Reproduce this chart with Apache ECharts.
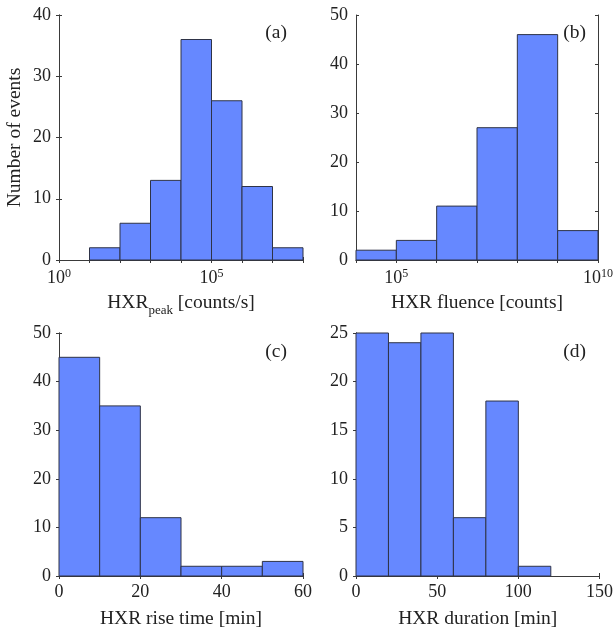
<!DOCTYPE html>
<html>
<head>
<meta charset="utf-8">
<script src="https://cdn.jsdelivr.net/npm/echarts@6/dist/echarts.min.js"></script>
<style>
  html, body { margin: 0; padding: 0; background: #fff; }
  #chart { width: 616px; height: 630px; }
</style>
</head>
<body>
<div id="chart"></div>
<script>
// Histogram bin edges (log10 for the two log-scaled panels) and event counts
const peakEdges = [1, 2, 3, 4, 5, 6, 7, 8];          // log10 HXR peak [counts/s]
const peakCounts = [2, 6, 13, 36, 26, 12, 2];
const fluenceEdges = [4, 5, 6, 7, 8, 9, 10];         // log10 HXR fluence [counts]
const fluenceCounts = [2, 4, 11, 27, 46, 6];
const riseEdges = [0, 10, 20, 30, 40, 50, 60];       // rise time [min]
const riseCounts = [45, 35, 12, 2, 2, 3];
const durEdges = [0, 20, 40, 60, 80, 100, 120];      // duration [min]
const durCounts = [25, 24, 25, 6, 18, 1];

// Axis ranges and labelled ticks
const peakRange = [0, 8], peakLabels = [0, 5];
const fluenceRange = [4, 10], fluenceLabels = [5, 10];
const riseRange = [0, 60], riseStep = 20;
const durRange = [0, 150], durStep = 50;
const countRanges = [[0, 40, 10], [0, 50, 10], [0, 50, 10], [0, 25, 5]];
const panelTags = ['(a)', '(b)', '(c)', '(d)'];

const FONT = 'Liberation Serif';
const INK = '#222';
const FRAME = '#3a3a3a';
const FILL = '#6688ff';
const EDGE = '#2e3347';

function binRows(edges, counts) {
  return counts.map((c, i) => [edges[i], edges[i + 1], c]);
}

const grids = [
  { left: 59, top: 15, width: 244, height: 245 },
  { left: 356, top: 15, width: 243.5, height: 245 },
  { left: 59, top: 333, width: 244, height: 245 },
  { left: 356, top: 333, width: 243.5, height: 245 }
];

const tickStyle = { show: true, inside: true, length: 3, lineStyle: { color: FRAME, width: 1 } };
const lineStyle = { show: true, lineStyle: { color: FRAME, width: 1 } };

function powLabel(shown) {
  return {
    showMinLabel: true, showMaxLabel: true, margin: 7,
    formatter: v => shown.indexOf(v) >= 0 ? '{b|10}{sup|' + v + '}' : '',
    rich: {
      b: { fontFamily: FONT, fontSize: 18, color: INK, lineHeight: 22, verticalAlign: 'middle' },
      sup: { fontFamily: FONT, fontSize: 12, color: INK, lineHeight: 12, padding: [0, 0, 9, 0], verticalAlign: 'middle' }
    }
  };
}
function plainLabel() {
  return { showMinLabel: true, showMaxLabel: true, margin: 7, fontFamily: FONT, fontSize: 18, color: INK };
}

const xDefs = [
  { range: peakRange, interval: 1, label: powLabel(peakLabels),
    name: '{n|HXR}{s|peak}{n| [counts/s]}' },
  { range: fluenceRange, interval: 1, label: powLabel(fluenceLabels),
    name: 'HXR fluence [counts]' },
  { range: riseRange, interval: riseStep, label: plainLabel(),
    name: 'HXR rise time [min]' },
  { range: durRange, interval: durStep, label: plainLabel(),
    name: 'HXR duration [min]' }
];

const xAxes = [], yAxes = [];
xDefs.forEach((d, p) => {
  xAxes.push({
    type: 'value', gridIndex: p, position: 'bottom',
    min: d.range[0], max: d.range[1], interval: d.interval,
    axisLine: lineStyle, axisTick: tickStyle, splitLine: { show: false },
    axisLabel: d.label,
    name: d.name, nameLocation: 'middle', nameGap: 33,
    nameTextStyle: {
      fontFamily: FONT, fontSize: 19.5, color: INK,
      rich: {
        n: { fontFamily: FONT, fontSize: 19.5, color: INK, lineHeight: 24, verticalAlign: 'top' },
        s: { fontFamily: FONT, fontSize: 13, color: INK, lineHeight: 14, verticalAlign: 'bottom' }
      }
    }
  });
  xAxes.push({
    type: 'value', gridIndex: p, position: 'top',
    min: d.range[0], max: d.range[1], interval: d.interval,
    axisLine: lineStyle, axisTick: tickStyle, axisLabel: { show: false }, splitLine: { show: false }
  });
  const yr = countRanges[p];
  const left = {
    type: 'value', gridIndex: p, position: 'left',
    min: yr[0], max: yr[1], interval: yr[2],
    axisLine: lineStyle, axisTick: tickStyle, splitLine: { show: false },
    axisLabel: { showMinLabel: true, showMaxLabel: true, margin: 8, fontFamily: FONT, fontSize: 18, color: INK }
  };
  if (p === 0) {
    left.name = 'Number of events';
    left.nameLocation = 'middle';
    left.nameGap = 34;
    left.nameTextStyle = { fontFamily: FONT, fontSize: 19.5, color: INK };
  }
  yAxes.push(left);
  yAxes.push({
    type: 'value', gridIndex: p, position: 'right',
    min: yr[0], max: yr[1], interval: yr[2],
    axisLine: lineStyle, axisTick: tickStyle, axisLabel: { show: false }, splitLine: { show: false }
  });
});

const binSets = [
  binRows(peakEdges, peakCounts),
  binRows(fluenceEdges, fluenceCounts),
  binRows(riseEdges, riseCounts),
  binRows(durEdges, durCounts)
];

const series = binSets.map((rows, p) => ({
  type: 'custom',
  xAxisIndex: 2 * p, yAxisIndex: 2 * p,
  data: rows,
  encode: { x: [0, 1], y: 2 },
  renderItem: (params, api) => {
    const a = api.coord([api.value(0), 0]);
    const b = api.coord([api.value(1), api.value(2)]);
    return {
      type: 'rect',
      shape: { x: a[0], y: b[1], width: b[0] - a[0], height: a[1] - b[1] },
      style: { fill: FILL, stroke: EDGE, lineWidth: 1 }
    };
  },
  clip: false,
  z: 2
}));

const tagPos = [[287, 33], [586, 33], [287, 352], [586, 352]];
const graphic = panelTags.map((t, p) => ({
  type: 'text', x: tagPos[p][0], y: tagPos[p][1], z: 10,
  style: { text: t, font: '19.5px "' + FONT + '"', fill: INK, textAlign: 'right', textVerticalAlign: 'middle' }
}));

const chart = echarts.init(document.getElementById('chart'), null, { renderer: 'canvas' });
chart.setOption({
  animation: false,
  backgroundColor: '#fff',
  grid: grids,
  xAxis: xAxes,
  yAxis: yAxes,
  series: series,
  graphic: graphic
});
</script>
</body>
</html>
